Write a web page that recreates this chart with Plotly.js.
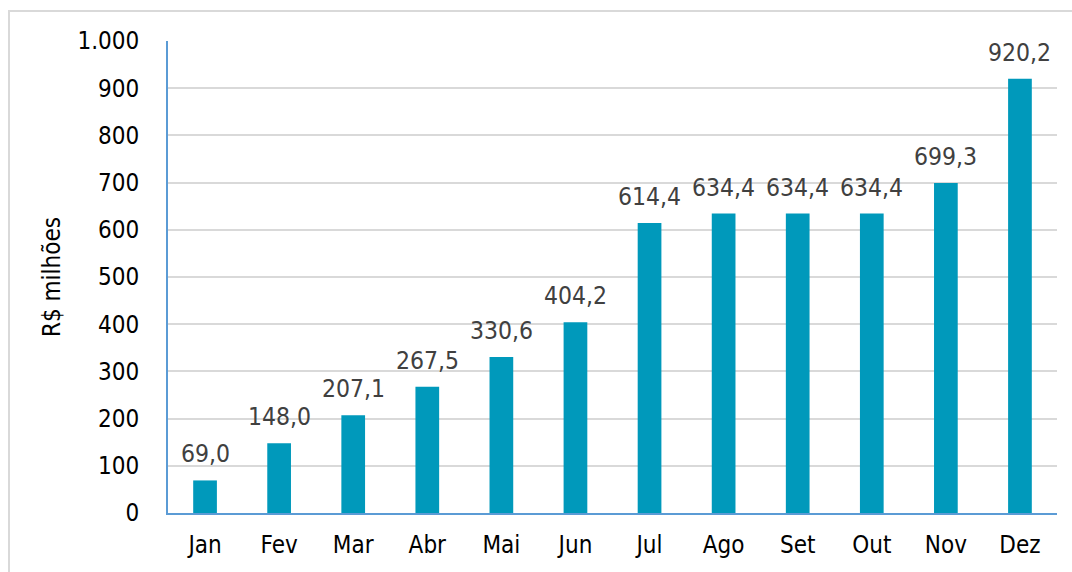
<!DOCTYPE html>
<html>
<head>
<meta charset="utf-8">
<script src="https://cdn.plot.ly/plotly-3.0.1.min.js"></script>
<style>
  html, body { margin: 0; padding: 0; background: #ffffff; }
  #frame { position: absolute; left: 8px; top: 10px; width: 1100px; height: 620px; border: 2px solid #d9d9d9; box-sizing: border-box; }
  #chart { position: absolute; left: 0; top: 0; width: 1072px; height: 572px; }
</style>
</head>
<body>
<div id="frame"></div>
<div id="chart"></div>
<script>
const months = ['Jan', 'Fev', 'Mar', 'Abr', 'Mai', 'Jun', 'Jul', 'Ago', 'Set', 'Out', 'Nov', 'Dez'];
const values = [69.0, 148.0, 207.1, 267.5, 330.6, 404.2, 614.4, 634.4, 634.4, 634.4, 699.3, 920.2];
const yTickVals = [0, 100, 200, 300, 400, 500, 600, 700, 800, 900, 1000];
const yTickText = ['0', '100', '200', '300', '400', '500', '600', '700', '800', '900', '1.000'];
const yTitle = 'R$ milhões';

const fmt = v => v.toFixed(1).replace('.', ',');
const FONT = '"DejaVu Sans Condensed", "Liberation Sans", Arial, sans-serif';

const trace = {
  type: 'bar',
  x: months,
  y: values,
  marker: { color: '#0099bb', line: { width: 0 } },
  width: 0.32,
  hoverinfo: 'skip'
};

const annotations = months.map((m, i) => ({
  x: m, y: values[i], xref: 'x', yref: 'y',
  text: fmt(values[i]), showarrow: false,
  yanchor: 'bottom', yshift: 10,
  font: { family: FONT, size: 24.5, color: '#404040' }
}));

const layout = {
  width: 1072, height: 572,
  margin: { l: 168, r: 15, t: 41, b: 59 },
  paper_bgcolor: 'rgba(0,0,0,0)',
  plot_bgcolor: 'rgba(0,0,0,0)',
  showlegend: false,
  font: { family: FONT, size: 24, color: '#000000' },
  xaxis: {
    type: 'category',
    showline: true, linecolor: '#5b9bd5', linewidth: 2,
    showgrid: false, zeroline: false,
    ticks: '', ticklabelstandoff: 9,
    tickfont: { family: FONT, size: 24, color: '#000000' }
  },
  yaxis: {
    range: [0, 1000],
    tickvals: yTickVals, ticktext: yTickText,
    showline: true, linecolor: '#5b9bd5', linewidth: 2,
    showgrid: true, gridcolor: '#d9d9d9', gridwidth: 2,
    zeroline: false,
    ticks: '', ticklabelstandoff: 22,
    tickfont: { family: FONT, size: 24, color: '#000000' },
    title: { text: yTitle, font: { family: FONT, size: 24, color: '#000000' }, standoff: 10 }
  },
  annotations: annotations
};

Plotly.newPlot('chart', [trace], layout, { displayModeBar: false, staticPlot: true });
</script>
</body>
</html>
